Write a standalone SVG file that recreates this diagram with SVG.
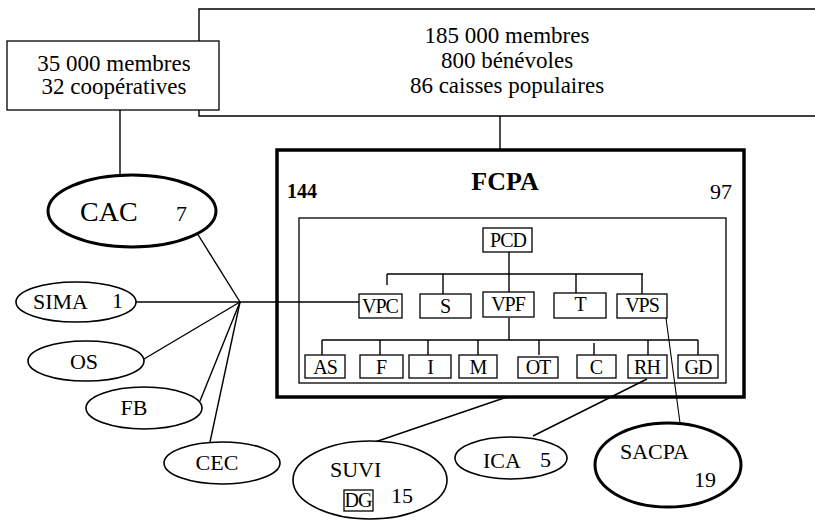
<svg xmlns="http://www.w3.org/2000/svg" width="815" height="520" viewBox="0 0 815 520">
  <style>
    text { font-family: "Liberation Serif", "Times New Roman", serif; fill: #000; }
    .big { font-size: 23px; }
    .lbl { font-size: 22px; }
    .box { font-size: 20px; letter-spacing: -1px; }
    .thin { fill: #fff; stroke: #000; stroke-width: 1.3; }
    .frame { fill: none; stroke: #000; }
    .el { fill: #fff; stroke: #000; stroke-width: 1.6; }
    .thick { fill: #fff; stroke: #000; stroke-width: 3; }
    .ln { fill: none; stroke: #000; stroke-width: 1.4; }
  </style>

  <!-- membership box of the federation (extends past the right edge) -->
  <g id="federation-members">
    <path d="M815 9 H199 V116 H815" class="ln" fill="#fff"/>
    <text class="big" x="507" y="43" text-anchor="middle">185 000 membres</text>
    <text class="big" x="507" y="68" text-anchor="middle">800 bénévoles</text>
    <text class="big" x="507" y="93" text-anchor="middle">86 caisses populaires</text>
  </g>

  <!-- membership box of the cooperatives -->
  <g id="cac-members">
    <rect x="7" y="41" width="212" height="69" class="thin"/>
    <text class="big" x="114" y="71" text-anchor="middle">35 000 membres</text>
    <text class="big" x="114" y="94" text-anchor="middle">32 coopératives</text>
  </g>

  <!-- FCPA frame -->
  <g id="fcpa">
    <rect x="277" y="150" width="467" height="247" class="frame" stroke-width="3.5"/>
    <rect x="299" y="218" width="427" height="165" class="frame" stroke-width="1.3"/>
    <text x="287" y="198" font-size="20" font-weight="bold">144</text>
    <text x="505" y="190" font-size="26" font-weight="bold" text-anchor="middle">FCPA</text>
    <text x="710" y="199" font-size="22">97</text>
  </g>

  <!-- connectors -->
  <g id="connectors" class="ln">
    <line x1="120" y1="110" x2="120" y2="176"/>
    <line x1="500" y1="116" x2="500" y2="150"/>
    <line x1="197" y1="233" x2="240" y2="302"/>
    <line x1="136" y1="302" x2="359" y2="302"/>
    <line x1="144" y1="359" x2="240" y2="302"/>
    <line x1="200" y1="401" x2="240" y2="302"/>
    <line x1="210" y1="442" x2="240" y2="302"/>
    <line x1="375" y1="442" x2="507" y2="397"/>
    <line x1="533" y1="436" x2="647" y2="379"/>
    <line x1="666" y1="318" x2="680" y2="423" stroke-width="1.1"/>
  </g>

  <!-- internal organisation chart -->
  <g id="org-lines" class="ln" stroke-width="1.2">
    <line x1="509" y1="252" x2="509" y2="293"/>
    <line x1="387" y1="274" x2="643" y2="274"/>
    <line x1="387" y1="274" x2="387" y2="285"/>
    <line x1="443" y1="274" x2="443" y2="294"/>
    <line x1="576" y1="274" x2="576" y2="293"/>
    <line x1="642" y1="274" x2="642" y2="294"/>
    <line x1="509" y1="318" x2="509" y2="340"/>
    <line x1="322" y1="340" x2="698" y2="340"/>
    <line x1="322" y1="340" x2="322" y2="355"/>
    <line x1="380" y1="340" x2="380" y2="355"/>
    <line x1="428" y1="340" x2="428" y2="355"/>
    <line x1="478" y1="340" x2="478" y2="355"/>
    <line x1="539" y1="340" x2="539" y2="355"/>
    <line x1="594" y1="343" x2="594" y2="355"/>
    <line x1="648" y1="340" x2="648" y2="355"/>
    <line x1="698" y1="340" x2="698" y2="355"/>
  </g>

  <g id="pcd"><rect x="483" y="228" width="49" height="24" class="thin"/><text class="box" x="508" y="247" text-anchor="middle">PCD</text></g>

  <g id="vpc"><rect x="359" y="294" width="43" height="24" class="thin"/><text class="box" x="380" y="313" text-anchor="middle">VPC</text></g>
  <g id="s"><rect x="420" y="294" width="51" height="24" class="thin"/><text class="box" x="445" y="313" text-anchor="middle">S</text></g>
  <g id="vpf"><rect x="483" y="292" width="51" height="25" class="thin"/><text class="box" x="508" y="311" text-anchor="middle">VPF</text></g>
  <g id="t"><rect x="554" y="293" width="52" height="25" class="thin"/><text class="box" x="580" y="311" text-anchor="middle">T</text></g>
  <g id="vps"><rect x="617" y="294" width="50" height="24" class="thin"/><text class="box" x="642" y="312" text-anchor="middle">VPS</text></g>

  <g id="as"><rect x="305" y="355" width="40" height="23" class="thin"/><text class="box" x="325" y="374" text-anchor="middle">AS</text></g>
  <g id="f"><rect x="360" y="355" width="43" height="23" class="thin"/><text class="box" x="381" y="374" text-anchor="middle">F</text></g>
  <g id="i"><rect x="409" y="355" width="42" height="23" class="thin"/><text class="box" x="430" y="374" text-anchor="middle">I</text></g>
  <g id="m"><rect x="459" y="355" width="38" height="23" class="thin"/><text class="box" x="478" y="374" text-anchor="middle">M</text></g>
  <g id="ot"><rect x="518" y="357" width="40" height="21" class="thin"/><text class="box" x="538" y="374" text-anchor="middle">OT</text></g>
  <g id="c"><rect x="577" y="355" width="39" height="23" class="thin"/><text class="box" x="596" y="374" text-anchor="middle">C</text></g>
  <g id="rh"><rect x="628" y="355" width="39" height="23" class="thin"/><text class="box" x="647" y="374" text-anchor="middle">RH</text></g>
  <g id="gd"><rect x="678" y="355" width="40" height="23" class="thin"/><text class="box" x="698" y="374" text-anchor="middle">GD</text></g>

  <!-- surrounding organisations -->
  <g id="cac">
    <ellipse cx="132" cy="211" rx="84" ry="36" class="thick"/>
    <text x="80" y="221" font-size="28">CAC</text>
    <text x="176" y="221" font-size="22">7</text>
  </g>
  <g id="sima">
    <ellipse cx="76" cy="302" rx="60" ry="20" class="el"/>
    <text class="lbl" x="33" y="309">SIMA</text>
    <text class="lbl" x="112" y="308">1</text>
  </g>
  <g id="os">
    <ellipse cx="86" cy="361" rx="58" ry="20" class="el"/>
    <text class="lbl" x="84" y="369" text-anchor="middle">OS</text>
  </g>
  <g id="fb">
    <ellipse cx="144" cy="408" rx="58" ry="21" class="el"/>
    <text class="lbl" x="134" y="415" text-anchor="middle">FB</text>
  </g>
  <g id="cec">
    <ellipse cx="222" cy="463" rx="58" ry="21" class="el"/>
    <text class="lbl" x="217" y="470" text-anchor="middle">CEC</text>
  </g>
  <g id="suvi">
    <ellipse cx="370" cy="480" rx="77" ry="39" class="el"/>
    <text class="lbl" x="330" y="477">SUVI</text>
    <rect x="344" y="490" width="29" height="21" class="thin"/>
    <text class="box" x="358" y="507" text-anchor="middle">DG</text>
    <text class="lbl" x="391" y="503">15</text>
  </g>
  <g id="ica">
    <ellipse cx="511" cy="458" rx="56" ry="21" class="el"/>
    <text class="lbl" x="483" y="468">ICA</text>
    <text class="lbl" x="540" y="467">5</text>
  </g>
  <g id="sacpa">
    <ellipse cx="668" cy="465" rx="73" ry="42" class="thick"/>
    <text class="lbl" x="620" y="459">SACPA</text>
    <text class="lbl" x="694" y="487">19</text>
  </g>
</svg>
